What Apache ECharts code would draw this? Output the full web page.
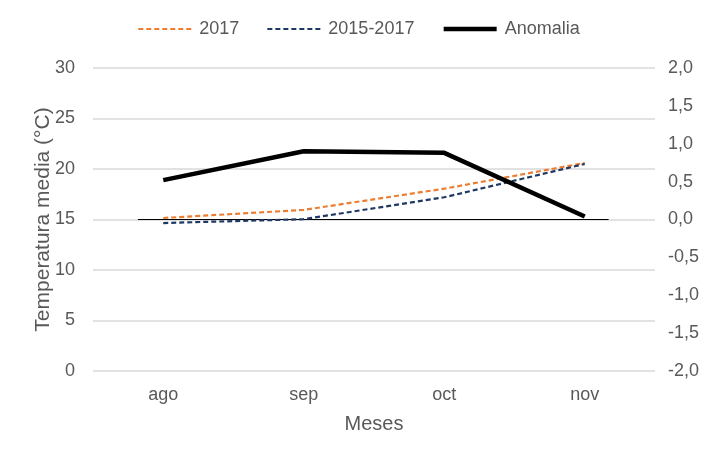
<!DOCTYPE html>
<html>
<head>
<meta charset="utf-8">
<script src="https://cdn.jsdelivr.net/npm/echarts@6/dist/echarts.min.js"></script>
<style>
	html, body { margin: 0; padding: 0; background: #fff; }
	#chart { width: 717px; height: 461px; }
</style>
</head>
<body>
<div id="chart"></div>
<script>
const months = ['ago', 'sep', 'oct', 'nov']
const temp2017 = [15.15, 15.95, 18.05, 20.6]
const temp2015_2017 = [14.65, 15.03, 17.2, 20.5]
const anomalia = [0.52, 0.9, 0.88, 0.04]
// extent of the thin zero line, in category units
const zeroLineX = [-0.18, 3.17]

const textColor = '#595959'
const font = 'Liberation Sans, Arial, sans-serif'

const chart = echarts.init(document.getElementById('chart'))

chart.setOption({
	animation: false,
	textStyle: { fontFamily: font, color: textColor },
	legend: {
		top: 15,
		left: 'center',
		itemWidth: 53,
		itemHeight: 10,
		itemGap: 27,
		itemStyle: { opacity: 0 },
		textStyle: { fontSize: 18, color: textColor, fontFamily: font, padding: [0, 0, 0, 3] },
		data: [
			{ name: '2017' },
			{ name: '2015-2017' },
			{ name: 'Anomalia', lineStyle: { width: 4.5 } }
		]
	},
	grid: {
		left: 93,
		right: 62,
		top: 68,
		bottom: 90
	},
	xAxis: [
		{
			type: 'category',
			data: months,
			boundaryGap: true,
			axisLine: { show: false },
			axisTick: { show: false },
			axisLabel: { fontSize: 18, color: textColor, margin: 15, fontFamily: font },
			name: 'Meses',
			nameLocation: 'middle',
			nameGap: 43,
			nameMoveOverlap: false,
			nameTextStyle: { fontSize: 20, color: textColor, fontFamily: font }
		},
		{
			type: 'value',
			min: -0.5,
			max: 3.5,
			show: false
		}
	],
	yAxis: [
		{
			type: 'value',
			min: 0,
			max: 30,
			interval: 5,
			axisLine: { show: false },
			axisTick: { show: false },
			axisLabel: { fontSize: 18, color: textColor, margin: 18, fontFamily: font },
			splitLine: { lineStyle: { color: '#d9d9d9', width: 1.5 } },
			name: 'Temperatura media (°C)',
			nameLocation: 'middle',
			nameGap: 39,
			nameMoveOverlap: false,
			nameTextStyle: { fontSize: 21, color: textColor, fontFamily: font }
		},
		{
			type: 'value',
			min: -2,
			max: 2,
			interval: 0.5,
			axisLine: { show: false },
			axisTick: { show: false },
			splitLine: { show: false },
			axisLabel: {
				fontSize: 18,
				color: textColor,
				margin: 13,
				fontFamily: font,
				formatter: v => v.toFixed(1).replace('.', ',')
			}
		}
	],
	series: [
		{
			name: 'zero',
			type: 'line',
			xAxisIndex: 1,
			yAxisIndex: 1,
			data: [[zeroLineX[0], 0], [zeroLineX[1], 0]],
			symbol: 'none',
			silent: true,
			z: 1,
			lineStyle: { color: '#000', width: 1 }
		},
		{
			name: '2017',
			type: 'line',
			data: temp2017,
			symbol: 'none',
			z: 3,
			itemStyle: { color: '#ED7D31' },
			lineStyle: { color: '#ED7D31', width: 2.2, type: [5, 3] }
		},
		{
			name: '2015-2017',
			type: 'line',
			data: temp2015_2017,
			symbol: 'none',
			z: 3,
			itemStyle: { color: '#203864' },
			lineStyle: { color: '#203864', width: 2.2, type: [5, 3] }
		},
		{
			name: 'Anomalia',
			type: 'line',
			yAxisIndex: 1,
			data: anomalia,
			symbol: 'none',
			z: 4,
			itemStyle: { color: '#000' },
			lineStyle: { color: '#000', width: 4.5 }
		}
	]
})
</script>
</body>
</html>
